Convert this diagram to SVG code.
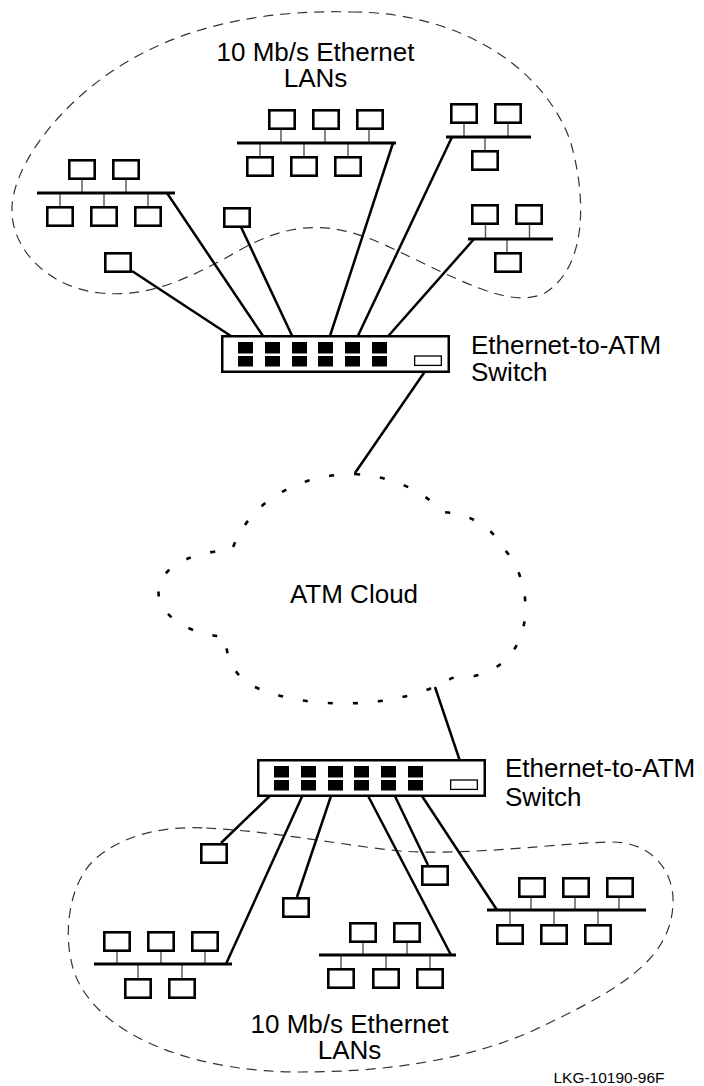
<svg xmlns="http://www.w3.org/2000/svg" width="704" height="1086" viewBox="0 0 704 1086">
<style>
  .bx{fill:#fff;stroke:#000;stroke-width:2.6}
  .bus{stroke:#000;stroke-width:3.2;fill:none}
  .stem{stroke:#555;stroke-width:1.4;fill:none}
  .cn{stroke:#000;stroke-width:2.5;fill:none;stroke-linecap:butt}
  .lan{fill:none;stroke:#333;stroke-width:1.2;stroke-dasharray:10 7}
  .atm{fill:none;stroke:#000;stroke-width:2.6;stroke-dasharray:5 20}
  .sw{fill:#fff;stroke:#000;stroke-width:2.5}
  .pt{fill:#000}
  .ap{fill:#fff;stroke:#000;stroke-width:1.3}
  .t{font-family:"Liberation Sans",Arial,Helvetica,sans-serif;font-size:26px;fill:#000}
  .s{font-family:"Liberation Sans",Arial,Helvetica,sans-serif;font-size:15.5px;fill:#000}
</style>
<defs>
  <rect id="pc" class="bx" x="1.3" y="1.3" width="25.4" height="18.4"/>
  <g id="switch">
    <rect class="sw" x="1.25" y="1.25" width="226.5" height="35.5"/>
    <rect class="pt" x="17" y="7" width="15" height="11.5"/><rect class="pt" x="17" y="21" width="15" height="10.5"/>
    <rect class="pt" x="44" y="7" width="15" height="11.5"/><rect class="pt" x="44" y="21" width="15" height="10.5"/>
    <rect class="pt" x="71" y="7" width="15" height="11.5"/><rect class="pt" x="71" y="21" width="15" height="10.5"/>
    <rect class="pt" x="97" y="7" width="15" height="11.5"/><rect class="pt" x="97" y="21" width="15" height="10.5"/>
    <rect class="pt" x="124" y="7" width="15" height="11.5"/><rect class="pt" x="124" y="21" width="15" height="10.5"/>
    <rect class="pt" x="151" y="7" width="15" height="11.5"/><rect class="pt" x="151" y="21" width="15" height="10.5"/>
    <rect class="ap" x="193.65" y="21" width="26.7" height="9.4"/>
  </g>
</defs>

<g id="top-lan-region">
  <path class="lan" d="M352,12 C450,12 540,60 570,140 C585,190 590,265 545,293 C510,310 460,280 385,245 C330,220 290,222 240,250 C190,278 150,298 100,293 C50,288 10,250 12,207 C14,160 70,90 143,53 C210,18 290,10 352,12 Z"/>
  <text class="t" x="315.5" y="61" text-anchor="middle">10 Mb/s Ethernet</text>
  <text class="t" x="315.5" y="87" text-anchor="middle">LANs</text>
</g>

<g id="atm-cloud">
  <path class="atm" d="M355,474 Q410,478 443,512 Q485,515 505,550 C540,590 535,680 452,678 C400,710 300,712 247,683 Q225,665 226,637 C140,630 130,555 232,550 C250,500 300,474 355,474 Z"/>
  <text class="t" x="354" y="603" text-anchor="middle">ATM Cloud</text>
</g>

<g id="bottom-lan-region">
  <path class="lan" d="M206,828 C280,832 340,845 400,851 C470,856 560,843 610,842 C650,841 675,870 673,905 C670,960 620,990 530,1032 C460,1062 380,1072 300,1072 C200,1072 110,1040 80,985 C60,950 65,880 100,855 C130,832 170,826 206,828 Z"/>
  <text class="t" x="349.5" y="1033" text-anchor="middle">10 Mb/s Ethernet</text>
  <text class="t" x="349.5" y="1059" text-anchor="middle">LANs</text>
</g>

<g id="connectors">
  <line class="cn" x1="132" y1="271" x2="240" y2="342"/>
  <line class="cn" x1="167" y1="193" x2="267" y2="342"/>
  <line class="cn" x1="241" y1="227" x2="295" y2="342"/>
  <line class="cn" x1="393" y1="143" x2="328" y2="342"/>
  <line class="cn" x1="452" y1="137" x2="355" y2="342"/>
  <line class="cn" x1="474" y1="239" x2="383" y2="342"/>
  <line class="cn" x1="428" y1="367" x2="355" y2="473"/>
  <line class="cn" x1="466" y1="779" x2="435" y2="687"/>
  <line class="cn" x1="276" y1="790" x2="221" y2="843"/>
  <line class="cn" x1="305" y1="790" x2="226" y2="964"/>
  <line class="cn" x1="333" y1="790" x2="297" y2="897"/>
  <line class="cn" x1="365" y1="790" x2="451" y2="955"/>
  <line class="cn" x1="392" y1="790" x2="428" y2="865"/>
  <line class="cn" x1="418" y1="790" x2="497" y2="910"/>
</g>

<g id="switch-top">
  <use href="#switch" x="221" y="335"/>
  <text class="t" x="471" y="354">Ethernet-to-ATM</text>
  <text class="t" x="471" y="381">Switch</text>
</g>

<g id="switch-bottom">
  <use href="#switch" x="257" y="759"/>
  <text class="t" x="505" y="777">Ethernet-to-ATM</text>
  <text class="t" x="505" y="806">Switch</text>
</g>

<g id="lan-top-left">
  <path class="stem" d="M82,180V193M126,180V193M60,193V206M104,193V206M148,193V206"/>
  <line class="bus" x1="37" y1="193" x2="175" y2="193"/>
  <use href="#pc" x="68" y="159"/><use href="#pc" x="112" y="159"/>
  <use href="#pc" x="46" y="206"/><use href="#pc" x="90" y="206"/><use href="#pc" x="134" y="206"/>
</g>
<g id="host-top-a"><use href="#pc" x="104" y="252"/></g>
<g id="host-top-b"><use href="#pc" x="223" y="207"/></g>

<g id="lan-top-middle">
  <path class="stem" d="M281,130V143M325,130V143M369,130V143M260,143V156M304,143V156M348,143V156"/>
  <line class="bus" x1="237" y1="143" x2="396" y2="143"/>
  <use href="#pc" x="268" y="109"/><use href="#pc" x="312" y="109"/><use href="#pc" x="356" y="109"/>
  <use href="#pc" x="246" y="156"/><use href="#pc" x="290" y="156"/><use href="#pc" x="334" y="156"/>
</g>

<g id="lan-top-right-1">
  <path class="stem" d="M464,124V137M508,124V137M485,137V150"/>
  <line class="bus" x1="446" y1="137" x2="531" y2="137"/>
  <use href="#pc" x="450" y="103"/><use href="#pc" x="494" y="103"/>
  <use href="#pc" x="471" y="150"/>
</g>

<g id="lan-top-right-2">
  <path class="stem" d="M485.5,225V239M529.5,225V239M507,239V252"/>
  <line class="bus" x1="468" y1="239" x2="553" y2="239"/>
  <use href="#pc" x="471" y="204"/><use href="#pc" x="515" y="204"/>
  <use href="#pc" x="494" y="252"/>
</g>

<g id="host-bottom-c"><use href="#pc" x="200" y="843"/></g>
<g id="host-bottom-d"><use href="#pc" x="282" y="897"/></g>
<g id="host-bottom-e"><use href="#pc" x="421" y="865"/></g>

<g id="lan-bottom-left">
  <path class="stem" d="M117,952V964M161,952V964M205,952V964M138,964V978M182,964V978"/>
  <line class="bus" x1="94" y1="964" x2="232" y2="964"/>
  <use href="#pc" x="103" y="931"/><use href="#pc" x="147" y="931"/><use href="#pc" x="191" y="931"/>
  <use href="#pc" x="124" y="978"/><use href="#pc" x="168" y="978"/>
</g>

<g id="lan-bottom-middle">
  <path class="stem" d="M363,942V955M407,942V955M341,955V968M386,955V968M430,955V968"/>
  <line class="bus" x1="319" y1="955" x2="456" y2="955"/>
  <use href="#pc" x="349" y="922"/><use href="#pc" x="393" y="922"/>
  <use href="#pc" x="327" y="968"/><use href="#pc" x="372" y="968"/><use href="#pc" x="416" y="968"/>
</g>

<g id="lan-bottom-right">
  <path class="stem" d="M531,897V910M575,897V910M619,897V910M510,910V924M554,910V924M598,910V924"/>
  <line class="bus" x1="487" y1="910" x2="646" y2="910"/>
  <use href="#pc" x="518" y="877"/><use href="#pc" x="562" y="877"/><use href="#pc" x="606" y="877"/>
  <use href="#pc" x="496" y="924"/><use href="#pc" x="540" y="924"/><use href="#pc" x="584" y="924"/>
</g>

<text class="s" x="609" y="1083" text-anchor="middle">LKG-10190-96F</text>
</svg>
